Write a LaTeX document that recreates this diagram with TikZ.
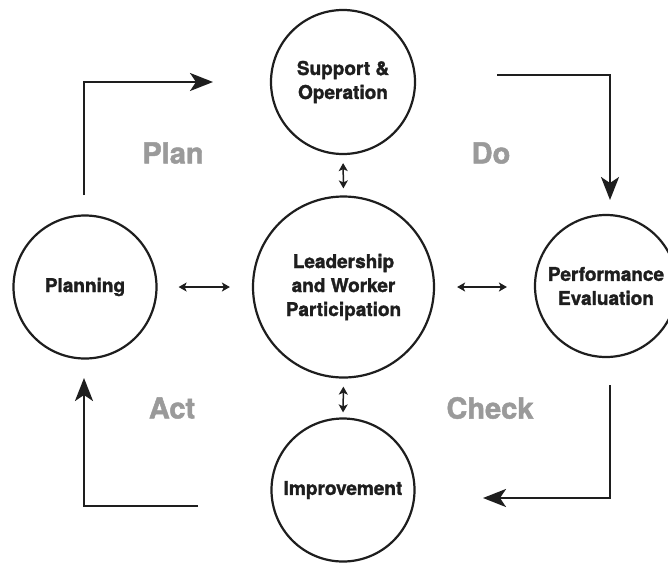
\documentclass[tikz,border=0pt]{standalone}
\usepackage{fontspec}
\setmainfont{TeX Gyre Heros}[BoldFeatures={FakeBold=1.6}]
\usetikzlibrary{arrows.meta}
\definecolor{ink}{HTML}{1E1E1E}
\definecolor{phase}{HTML}{9A9A9A}
\tikzset{
  stage/.style={circle, draw=ink, line width=2.2pt, align=center, text=ink,
    font=\fontsize{19}{24}\selectfont\bfseries, inner sep=0pt},
  phaselabel/.style={text=phase, font=\fontsize{29}{34}\selectfont\bfseries, inner sep=0pt},
  bigarrow/.style={draw=ink, line width=2.4pt, -{Stealth[length=23pt,width=18pt,inset=6pt]}},
  linkarrow/.style={draw=ink, line width=1.5pt, {Stealth[length=8pt,width=9pt,inset=2pt]}-{Stealth[length=8pt,width=9pt,inset=2pt]}}
}
\begin{document}
\begin{tikzpicture}[x=1pt,y=-1pt]
\useasboundingbox (0,0) rectangle (668,563);
\clip (0,0) rectangle (668,563);
\fill[white] (0,0) rectangle (668,563);
% stages
\node[stage, minimum size=144pt] (support) at (343,82) {Support \&\\Operation};
\node[stage, minimum size=181pt] (leader) at (343.5,287) {Leadership\\and Worker\\Participation};
\node[stage, minimum size=143pt] (planning) at (85,287) {Planning};
\node[stage, minimum size=142pt] (perf) at (606,286) {Performance\\Evaluation};
\node[stage, minimum size=143pt] (improve) at (343,490) {Improvement};
% phase labels
\node[phaselabel] (plan) at (173,153) {Plan};
\node[phaselabel] (do) at (491,153) {Do};
\node[phaselabel] (act) at (172,408) {Act};
\node[phaselabel] (check) at (490,408) {Check};
% cycle arrows
\coordinate (planstart) at (84,195);
\coordinate (planend) at (213,82);
\coordinate (dostart) at (497,75);
\coordinate (doend) at (610,200);
\coordinate (checkstart) at (610,385);
\coordinate (checkend) at (483,498);
\coordinate (actstart) at (198,506);
\coordinate (actend) at (84,378);
\draw[bigarrow] (planstart) |- (planend);
\draw[bigarrow] (dostart) -| (doend);
\draw[bigarrow] (checkstart) |- (checkend);
\draw[bigarrow] (actstart) -| (actend);
% links to leadership
\draw[linkarrow, shorten <=21pt, shorten >=22pt] (planning.east) -- (planning.east -| leader.west);
\draw[linkarrow, shorten <=22pt, shorten >=27pt] (leader.east) -- (leader.east -| perf.west);
\draw[linkarrow, shorten <=8pt, shorten >=7pt] (support.south) -- (leader.north);
\draw[linkarrow, shorten <=8pt, shorten >=5pt] (leader.south) -- (improve.north);
\end{tikzpicture}
\end{document}
